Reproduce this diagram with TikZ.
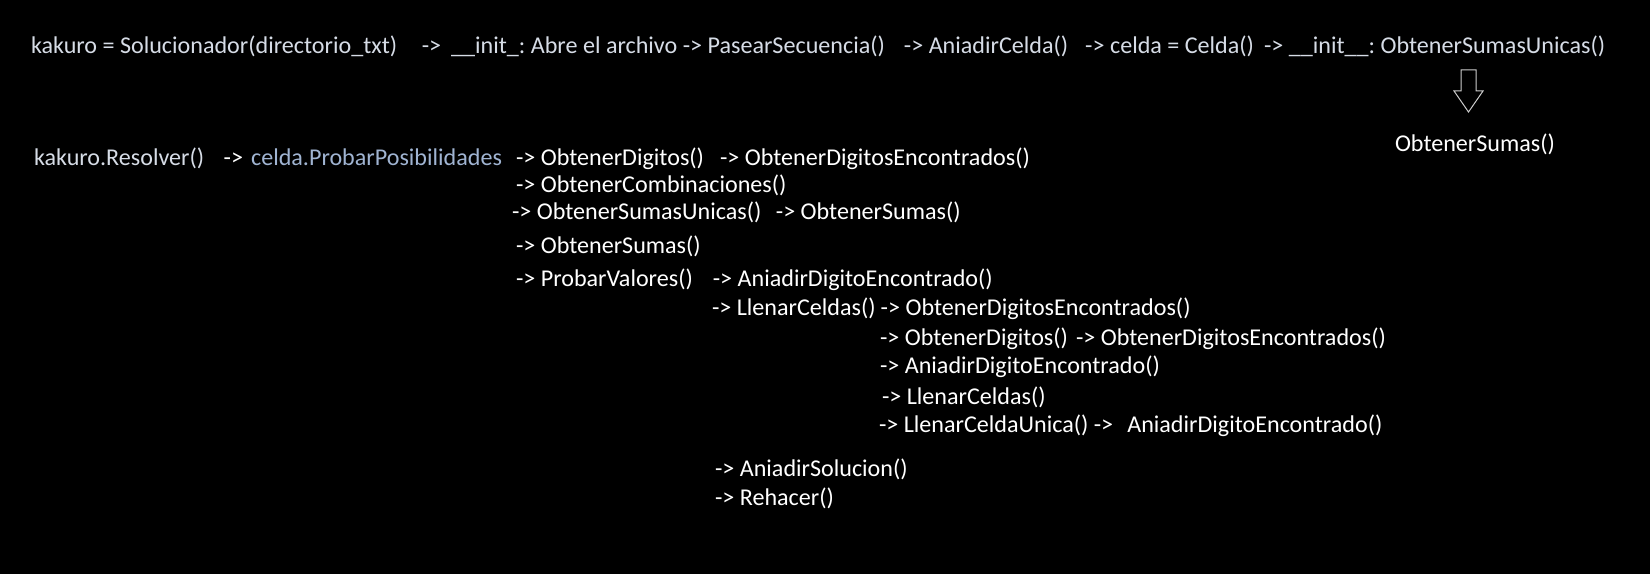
\documentclass[tikz,border=0pt]{standalone}
\usepackage{fontspec}
\setmainfont{Carlito}
\usetikzlibrary{positioning}
\definecolor{gristxt}{RGB}{214,220,230}
\definecolor{azultxt}{RGB}{160,180,210}
\definecolor{lineagris}{RGB}{205,205,205}
\tikzset{
	txt/.style={inner sep=0, outer sep=0, anchor=base west, text=white, font=\fontsize{24.1bp}{29bp}\selectfont\frenchspacing},
	gris/.style={txt, text=gristxt},
	azul/.style={txt, text=azultxt},
	flecha/.style={draw=lineagris, line width=1bp, line join=miter}
}

\begin{document}
\begin{tikzpicture}[x=1bp, y=-1bp]
	\fill[black] (0,0) rectangle (1650,574);
	\useasboundingbox (0,0) rectangle (1650,574);
	
	\node[gris] (A1) at (31,54) {kakuro = Solucionador(directorio\_txt)};
	\node[gris, base right = 24.5bp of A1] (A2) {->};
	\node[gris, base right = 10bp of A2] (A3) {\_\_init\_: Abre el archivo -> PasearSecuencia()};
	\node[gris, base right = 19bp of A3] (A4) {-> AniadirCelda()};
	\node[gris, base right = 17bp of A4] (A5) {-> celda = Celda()};
	\node[gris, base right = 10bp of A5] (A6) {-> \_\_init\_\_: ObtenerSumasUnicas()};
	\node[txt] (N) at (1395,152) {ObtenerSumas()};
	
	\node[gris] (B1) at (34,166) {kakuro.Resolver()};
	\node[txt, base right = 19.5bp of B1] (B2) {->};
	\node[azul, base right = 8bp of B2] (B3) {celda.ProbarPosibilidades};
	\node[txt, base right = 14bp of B3] (B4) {-> ObtenerDigitos()};
	\node[txt, base right = 16bp of B4] (B5) {-> ObtenerDigitosEncontrados()};
	
	\node[txt] (C1) at (516,193) {-> ObtenerCombinaciones()};
	\node[txt] (D1) at (512,220) {-> ObtenerSumasUnicas()};
	\node[txt, base right = 14.5bp of D1] (D2) {-> ObtenerSumas()};
	\node[txt] (E1) at (516,253) {-> ObtenerSumas()};
	\node[txt] (F1) at (516,286) {-> ProbarValores()};
	\node[txt, base right = 20bp of F1] (F2) {-> AniadirDigitoEncontrado()};
	
	\node[txt] (G1) at (712,315) {-> LlenarCeldas()};
	\node[txt, base right = 5bp of G1] (G2) {-> ObtenerDigitosEncontrados()};
	\node[txt] (H1) at (880,345) {-> ObtenerDigitos()};
	\node[txt, base right = 8bp of H1] (H2) {-> ObtenerDigitosEncontrados()};
	\node[txt] (I1) at (880,373) {-> AniadirDigitoEncontrado()};
	\node[txt] (J1) at (882,404) {-> LlenarCeldas()};
	\node[txt] (K1) at (879,432) {-> LlenarCeldaUnica() ->};
	\node[txt, base right = 14bp of K1] (K2) {AniadirDigitoEncontrado()};
	
	\node[txt] (L1) at (715,476) {-> AniadirSolucion()};
	\node[txt] (M1) at (715,505) {-> Rehacer()};
	
	\draw[flecha] (1461,70) -- (1476,70) -- (1476,91) -- (1483,91) -- (1468.5,112) -- (1454,91) -- (1461,91) -- cycle;
\end{tikzpicture}
\end{document}
